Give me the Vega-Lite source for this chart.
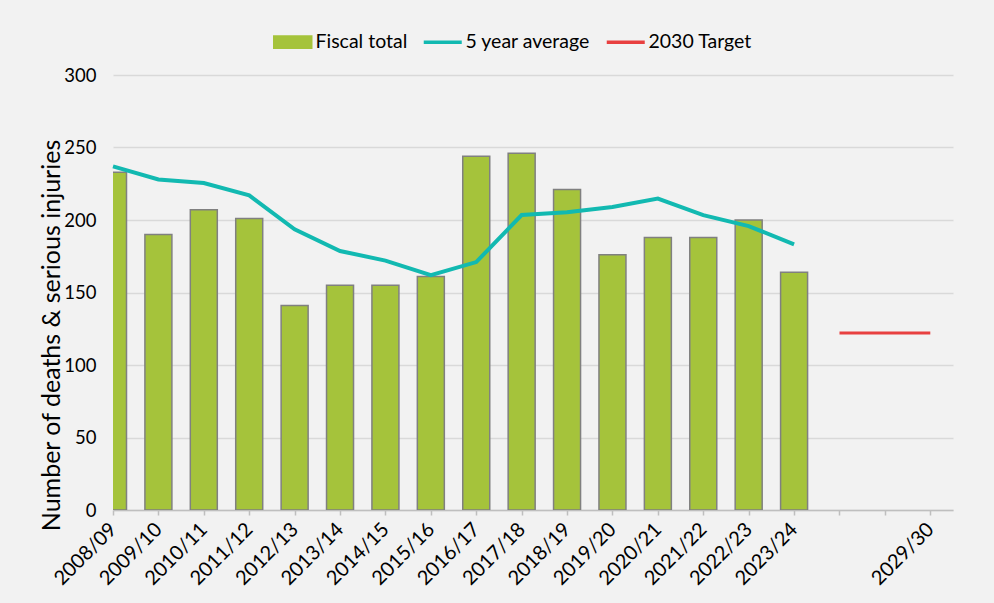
{
  "$schema": "https://vega.github.io/schema/vega-lite/v6.json",
  "autosize": {"type": "none"},
  "padding": {"left": 113, "top": 75, "right": 41, "bottom": 93},
  "width": 840,
  "height": 435,
  "background": "#f2f2f2",
  "config": {
    "view": {"stroke": null},
    "font": "Lato",
    "axis": {"labelFont": "Lato", "titleFont": "Lato", "labelColor": "#000000", "titleColor": "#000000", "titleFontWeight": "normal"},
    "legend": {"labelFont": "Lato", "labelColor": "#000000"}
  },
  "data": {
    "values": [
      {"period": "2008/09", "series": "Fiscal total", "value": 233},
      {"period": "2009/10", "series": "Fiscal total", "value": 190},
      {"period": "2010/11", "series": "Fiscal total", "value": 207},
      {"period": "2011/12", "series": "Fiscal total", "value": 201},
      {"period": "2012/13", "series": "Fiscal total", "value": 141},
      {"period": "2013/14", "series": "Fiscal total", "value": 155},
      {"period": "2014/15", "series": "Fiscal total", "value": 155},
      {"period": "2015/16", "series": "Fiscal total", "value": 161},
      {"period": "2016/17", "series": "Fiscal total", "value": 244},
      {"period": "2017/18", "series": "Fiscal total", "value": 246},
      {"period": "2018/19", "series": "Fiscal total", "value": 221},
      {"period": "2019/20", "series": "Fiscal total", "value": 176},
      {"period": "2020/21", "series": "Fiscal total", "value": 188},
      {"period": "2021/22", "series": "Fiscal total", "value": 188},
      {"period": "2022/23", "series": "Fiscal total", "value": 200},
      {"period": "2023/24", "series": "Fiscal total", "value": 164},
      {"period": "2008/09", "series": "5 year average", "value": 237},
      {"period": "2009/10", "series": "5 year average", "value": 228},
      {"period": "2010/11", "series": "5 year average", "value": 225.5},
      {"period": "2011/12", "series": "5 year average", "value": 217},
      {"period": "2012/13", "series": "5 year average", "value": 193.6},
      {"period": "2013/14", "series": "5 year average", "value": 178.6},
      {"period": "2014/15", "series": "5 year average", "value": 172},
      {"period": "2015/16", "series": "5 year average", "value": 162},
      {"period": "2016/17", "series": "5 year average", "value": 171},
      {"period": "2017/18", "series": "5 year average", "value": 203.4},
      {"period": "2018/19", "series": "5 year average", "value": 205.4},
      {"period": "2019/20", "series": "5 year average", "value": 209},
      {"period": "2020/21", "series": "5 year average", "value": 214.8},
      {"period": "2021/22", "series": "5 year average", "value": 203.4},
      {"period": "2022/23", "series": "5 year average", "value": 195.8},
      {"period": "2023/24", "series": "5 year average", "value": 183.2},
      {"period": " ", "series": "2030 Target", "value": 122},
      {"period": "2029/30", "series": "2030 Target", "value": 122}
    ]
  },
  "encoding": {
    "x": {
      "field": "period",
      "type": "ordinal",
      "scale": {
        "type": "point",
        "domain": ["2008/09", "2009/10", "2010/11", "2011/12", "2012/13", "2013/14", "2014/15", "2015/16", "2016/17", "2017/18", "2018/19", "2019/20", "2020/21", "2021/22", "2022/23", "2023/24", " ", "  ", "2029/30"],
        "padding": 0.25,
        "align": 0
      },
      "axis": {
        "title": null,
        "labelAngle": -45,
        "labelAlign": "right",
        "labelBaseline": "middle",
        "labelFontSize": 20,
        "labelPadding": 11,
        "tickSize": 5,
        "tickColor": "#bfbfbf",
        "tickWidth": 1.5,
        "domainColor": "#bfbfbf",
        "domainWidth": 1.5,
        "grid": false,
        "labelOverlap": false
      }
    },
    "y": {
      "field": "value",
      "type": "quantitative",
      "scale": {"domain": [0, 300], "nice": false, "zero": true},
      "axis": {
        "title": "Number of deaths & serious injuries",
        "titleFontSize": 25,
        "titleBaseline": "alphabetic",
        "titleX": -54,
        "titleY": 260,
        "values": [0, 50, 100, 150, 200, 250, 300],
        "labelFontSize": 18.5,
        "labelPadding": 17,
        "domain": false,
        "ticks": false,
        "grid": true,
        "gridColor": "#d9d9d9",
        "gridWidth": 1.5
      }
    },
    "color": {
      "field": "series",
      "type": "nominal",
      "scale": {
        "domain": ["Fiscal total", "5 year average", "2030 Target"],
        "range": ["#a5c33b", "#12b9b1", "#e84040"]
      },
      "legend": {
        "title": null,
        "orient": "none",
        "legendX": 170,
        "legendY": -43,
        "direction": "horizontal",
        "labelFontSize": 19.5,
        "labelOffset": 13,
        "columnPadding": 8,
        "symbolSize": 1444,
        "encode": {
          "symbols": {
            "update": {
              "shape": {"signal": "datum.value === 'Fiscal total' ? 'M-1,-0.32H1V0.32H-1Z' : 'stroke'"},
              "fill": {"signal": "datum.value === 'Fiscal total' ? '#a5c33b' : 'transparent'"},
              "stroke": {"signal": "datum.value === 'Fiscal total' ? '#808080' : (datum.value === '5 year average' ? '#12b9b1' : '#e84040')"},
              "strokeWidth": {"signal": "datum.value === 'Fiscal total' ? 1.5 : 3.5"},
              "opacity": {"value": 1}
            }
          }
        }
      }
    }
  },
  "layer": [
    {
      "transform": [{"filter": "datum.series === 'Fiscal total'"}],
      "mark": {"type": "bar", "size": 27, "clip": true, "stroke": "#808080", "strokeWidth": 1.5, "fillOpacity": 1}
    },
    {
      "transform": [{"filter": "datum.series === '5 year average'"}],
      "mark": {"type": "line", "strokeWidth": 4, "clip": false}
    },
    {
      "transform": [{"filter": "datum.series === '2030 Target'"}],
      "mark": {"type": "line", "strokeWidth": 3}
    }
  ]
}
